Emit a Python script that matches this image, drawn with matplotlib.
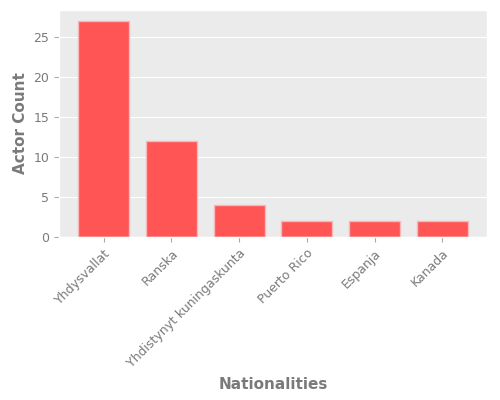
import matplotlib
matplotlib.use("Agg")
import matplotlib.pyplot as plt

nationalities = [
    "Yhdysvallat",
    "Ranska",
    "Yhdistynyt kuningaskunta",
    "Puerto Rico",
    "Espanja",
    "Kanada",
]
actor_counts = [27, 12, 4, 2, 2, 2]

plt.style.use("ggplot")

fig = plt.figure(figsize=(5, 4), dpi=100)
ax = fig.add_axes([0.118, 0.4075, 0.856, 0.5675])
ax.set_facecolor("#ebebeb")

ax.bar(nationalities, actor_counts, width=0.75, color="#ff5555", edgecolor="#f4b8b8", linewidth=1)
ax.grid(axis="x", visible=False)
ax.set_xticks(range(len(nationalities)))
ax.set_xticklabels(nationalities, rotation=45, ha="right", rotation_mode="anchor", fontsize=9)
ax.tick_params(axis="y", labelsize=9)
ax.tick_params(colors="#aaaaaa", labelcolor="#7a7a7a")
ax.set_xlabel("Nationalities", fontsize=11, fontweight="bold", color="#7a7a7a", labelpad=5)
ax.set_ylabel("Actor Count", fontsize=11, fontweight="bold", color="#7a7a7a")

fig.savefig("out.png", dpi=100)
